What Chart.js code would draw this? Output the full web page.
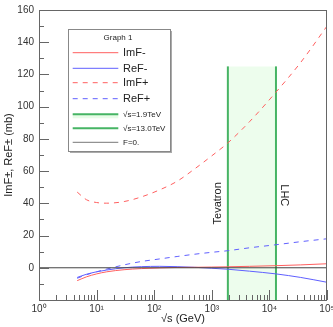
<!DOCTYPE html>
<html>
<head>
<meta charset="utf-8">
<script src="https://cdn.jsdelivr.net/npm/chart.js@4"></script>
<style>
  body { margin: 0; background: #fff; }
  #wrap { width: 333px; height: 327px; }
</style>
</head>
<body>
<div id="wrap"><canvas id="myChart" width="333" height="327"></canvas></div>
<script>
// sqrt(s) in GeV
const sqrtS = [4.6, 6.7, 10, 15, 30, 60, 125, 250, 500, 1000, 1900, 4500, 13000, 35000, 100000];
const imFminus = [-8, -5.6, -3.8, -2.5, -1.2, -0.5, -0.1, 0.2, 0.3, 0.45, 0.6, 0.9, 1.3, 1.8, 2.5];
const reFminus = [-6, -4, -2.5, -1.4, 0, 0.7, 0.9, 0.7, 0.3, -0.3, -0.9, -2.1, -3.8, -6, -9];
const imFplus = [47, 42.2, 40.5, 40.1, 41.1, 44, 48.4, 53.7, 61.3, 69.5, 77.5, 90.6, 109, 127.5, 150];
const reFplus = [-6.5, -4.3, -2.5, -0.8, 1.8, 3.9, 5.5, 7, 8.4, 9.6, 10.6, 12.4, 14.3, 16.2, 18];

const tevatron = 1900;   // GeV
const lhc = 13000;       // GeV
const bandTop = 125;
const yMin = -20, yMax = 160;
const xMin = 1, xMax = 100000;

const FONT = '"Liberation Sans", Arial, sans-serif';
const RED = 'rgb(255,95,95)';
const BLUE = 'rgb(95,95,255)';
const GREEN = 'rgb(70,180,100)';

const pts = ys => sqrtS.map((s, i) => ({ x: s, y: ys[i] }));
const sup = { '0': '⁰', '1': '¹', '2': '²', '3': '³', '4': '⁴', '5': '⁵' };

const curve = (label, ys, color, dash) => ({
    label: label,
    data: pts(ys),
    borderColor: color,
    borderWidth: 1,
    borderDash: dash,
    pointRadius: 0,
    cubicInterpolationMode: 'monotone',
    fill: false,
    order: 1
});

const decor = {
    id: 'decor',
    afterDatasetsDraw(chart) {
        const { ctx, chartArea: a, scales: { x, y } } = chart;
        ctx.save();

        // frame
        ctx.strokeStyle = '#666';
        ctx.lineWidth = 1;
        ctx.strokeRect(a.left + 0.5, a.top + 0.5, a.right - a.left - 1, a.bottom - a.top);

        // inward ticks
        ctx.strokeStyle = '#666';
        ctx.beginPath();
        for (let d = 0; d <= 5; d++) {
            for (let m = 1; m <= 9; m++) {
                const v = m * Math.pow(10, d);
                if (v > xMax) break;
                const px = Math.round(x.getPixelForValue(v)) + 0.5;
                const len = m === 1 ? 10 : 5;
                ctx.moveTo(px, a.bottom);
                ctx.lineTo(px, a.bottom - len);
            }
        }
        for (let v = yMin; v <= yMax; v += 10) {
            const py = Math.round(y.getPixelForValue(v)) + 0.5;
            const len = v % 20 === 0 ? 10 : 5;
            ctx.moveTo(a.left, py);
            ctx.lineTo(a.left + len, py);
        }
        ctx.stroke();

        // collider labels
        ctx.fillStyle = '#222';
        ctx.font = '11px ' + FONT;
        ctx.textAlign = 'center';
        ctx.textBaseline = 'middle';
        ctx.save();
        ctx.translate(x.getPixelForValue(tevatron) - 10, y.getPixelForValue(40));
        ctx.rotate(-Math.PI / 2);
        ctx.fillText('Tevatron', 0, 0);
        ctx.restore();
        ctx.save();
        ctx.translate(x.getPixelForValue(lhc) + 8, y.getPixelForValue(45));
        ctx.rotate(Math.PI / 2);
        ctx.fillText('LHC', 0, 0);
        ctx.restore();

        // legend box
        const L = a.left + 29, T = a.top + 19, W = 102, H = 122;
        ctx.fillStyle = '#aaa';
        ctx.fillRect(L + 2, T + 2, W, H);
        ctx.fillStyle = '#fff';
        ctx.fillRect(L, T, W, H);
        ctx.strokeStyle = '#888';
        ctx.strokeRect(L + 0.5, T + 0.5, W, H);

        ctx.fillStyle = '#222';
        ctx.font = '8px ' + FONT;
        ctx.fillText('Graph 1', L + 50, T + 8.5);

        const entries = [
            ['ImF-', RED, [], 11],
            ['ReF-', BLUE, [], 11],
            ['ImF+', RED, [5, 5], 11],
            ['ReF+', BLUE, [5, 5], 11],
            ['√s=1.9TeV', GREEN, [], 8],
            ['√s=13.0TeV', GREEN, [], 8],
            ['F=0.', '#777', [], 8]
        ];
        const rowY = [23.7, 39.3, 53.7, 69.7, 85.3, 99.3, 113.3];
        entries.forEach((e, i) => {
            const yy = T + rowY[i];
            if (i === 4) {
                ctx.fillStyle = 'rgba(215,250,215,0.6)';
                ctx.fillRect(L + 4.7, yy, 45.6, 4);
            }
            ctx.strokeStyle = e[1];
            ctx.lineWidth = i === 4 || i === 5 ? 2 : 1;
            ctx.setLineDash(e[2]);
            ctx.beginPath();
            ctx.moveTo(L + 4.7, yy);
            ctx.lineTo(L + 50.3, yy);
            ctx.stroke();
            ctx.setLineDash([]);
            ctx.fillStyle = '#222';
            ctx.font = e[3] + 'px ' + FONT;
            ctx.textAlign = 'left';
            ctx.fillText(e[0], L + 55, yy + 0.5);
        });

        ctx.restore();
    }
};

const ctx = document.getElementById('myChart');

new Chart(ctx, {
    type: 'line',
    data: {
        datasets: [
            curve('ImF-', imFminus, RED, []),
            curve('ReF-', reFminus, BLUE, []),
            curve('ImF+', imFplus, RED, [5, 5]),
            curve('ReF+', reFplus, BLUE, [5, 5]),
            {
                label: 'band',
                data: [{ x: tevatron, y: bandTop }, { x: lhc, y: bandTop }],
                borderWidth: 0,
                pointRadius: 0,
                backgroundColor: 'rgba(215,250,215,0.45)',
                fill: 'start',
                order: 5
            },
            {
                label: '√s=1.9TeV',
                data: [{ x: tevatron, y: yMin }, { x: tevatron, y: bandTop }],
                borderColor: GREEN,
                borderWidth: 2,
                pointRadius: 0,
                order: 2
            },
            {
                label: '√s=13.0TeV',
                data: [{ x: lhc, y: yMin }, { x: lhc, y: bandTop }],
                borderColor: GREEN,
                borderWidth: 2,
                pointRadius: 0,
                order: 2
            },
            {
                label: 'F=0.',
                data: [{ x: xMin, y: 0 }, { x: xMax, y: 0 }],
                borderColor: '#444',
                borderWidth: 1,
                pointRadius: 0,
                order: 0
            }
        ]
    },
    options: {
        responsive: false,
        animation: false,
        layout: { padding: { top: 10, right: 6, left: 0, bottom: 0 } },
        plugins: { legend: { display: false }, tooltip: { enabled: false } },
        scales: {
            x: {
                type: 'logarithmic',
                min: xMin,
                max: xMax,
                grid: { display: false, drawTicks: false },
                border: { display: false },
                ticks: {
                    autoSkip: false,
                    maxRotation: 0,
                    padding: 3,
                    color: '#333',
                    font: { size: 10, family: FONT },
                    callback: v => {
                        const l = Math.log10(v);
                        if (Math.abs(l - Math.round(l)) > 1e-9) return '';
                        return '10' + sup[String(Math.round(l))];
                    }
                },
                title: {
                    display: true,
                    text: '√s (GeV)',
                    color: '#222',
                    font: { size: 11, family: FONT },
                    padding: { top: 0, bottom: 1 }
                },
                afterFit: s => { s.height = 27; s.paddingLeft = 0; s.paddingRight = 0; }
            },
            y: {
                min: yMin,
                max: yMax,
                grid: { display: false, drawTicks: false },
                border: { display: false },
                ticks: {
                    stepSize: 10,
                    padding: 5,
                    color: '#333',
                    font: { size: 10, family: FONT },
                    callback: v => (v % 20 === 0 && v > yMin ? v : '')
                },
                title: {
                    display: true,
                    text: 'ImF±, ReF± (mb)',
                    color: '#222',
                    font: { size: 11, family: FONT },
                    padding: { top: 2, bottom: 0 }
                },
                afterFit: s => { s.width = 39; s.paddingTop = 0; s.paddingBottom = 0; }
            }
        }
    },
    plugins: [decor]
});
</script>
</body>
</html>
